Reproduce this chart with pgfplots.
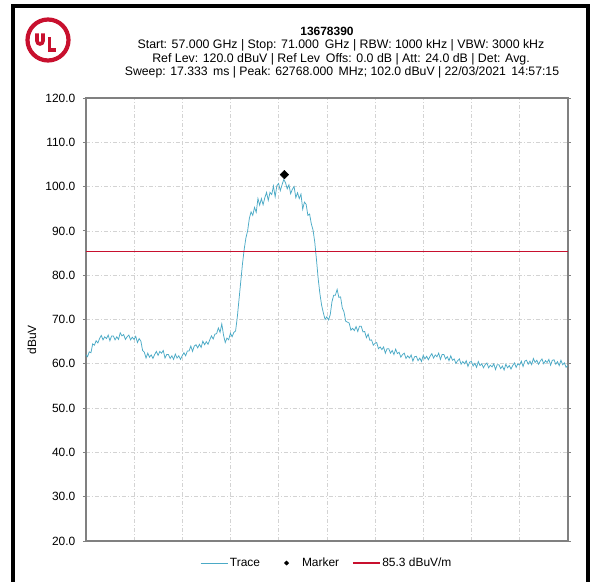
\documentclass[border=0pt]{standalone}
\usepackage{fontspec}
\setmainfont{Liberation Sans}
\usepackage{pgfplots}
\pgfplotsset{compat=1.18}
\definecolor{tracec}{RGB}{75,170,198}
\definecolor{ulred}{RGB}{200,16,46}
\definecolor{framec}{RGB}{128,128,128}
\begin{document}
\begin{tikzpicture}
\useasboundingbox (0bp,0bp) rectangle (590bp,582bp);
\draw[line width=4bp] (12.5bp,0bp) -- (12.5bp,576bp) -- (588bp,576bp) -- (588bp,0bp);
% logo
\draw[ulred, line width=4.2bp] (48bp,542bp) circle (20.5bp);
\draw[ulred, line width=3.6bp] (37bp,548.5bp) -- (37bp,541bp) arc[start angle=180, end angle=360, radius=3bp] -- (43bp,548.5bp);
\draw[ulred, line width=3.6bp, line join=miter] (49.3bp,544.5bp) -- (49.3bp,532bp) -- (56bp,532bp);
% titles
\node[font=\fontsize{12}{14}\selectfont\bfseries] at (327bp,551bp) {13678390};
\node[font=\fontsize{12.4}{14}\selectfont] at (341bp,537bp) {Start: 57.000 GHz | Stop: 71.000\hspace{2.5bp} GHz | RBW: 1000 kHz | VBW: 3000 kHz};
\node[font=\fontsize{12.4}{14}\selectfont] at (341bp,523bp) {Ref Lev: 120.0 dBuV | Ref Lev\hspace{2.5bp} Offs: 0.0 dB | Att: 24.0 dB | Det: Avg.};
\node[font=\fontsize{12.3}{14}\selectfont] at (342bp,510bp) {Sweep: 17.333\hspace{2bp} ms | Peak: 62768.000\hspace{2bp} MHz; 102.0 dBuV | 22/03/2021\hspace{2bp} 14:57:15};
\begin{axis}[
  at={(85.8bp,41bp)}, anchor=south west,
  width=482bp, height=443bp, scale only axis,
  xmin=57, xmax=71, ymin=20, ymax=120,
  xtick={57,58.4,59.8,61.2,62.6,64,65.4,66.8,68.2,69.6,71},
  xticklabels={},
  ytick={20,30,40,50,60,70,80,90,100,110,120},
  major x tick style={draw=none},
  major y tick style={draw=framec, line width=0.8bp},
  tick align=outside, major tick length=3bp,
  yticklabel style={font=\fontsize{12}{14}\selectfont, xshift=-4bp},
  yticklabel={\pgfmathprintnumber[fixed,fixed zerofill,precision=1]{\tick}},
  /pgf/number format/assume math mode=true,
  grid=major,
  major grid style={dash pattern=on 4bp off 2bp on 1bp off 2bp, draw=framec!35, line width=0.6bp},
  axis line style={draw=framec, line width=1.4bp},
  ylabel={dBuV},
  ylabel style={at={(axis description cs:-0.112,0.454)}, anchor=center, font=\fontsize{12}{14}\selectfont},
  legend columns=3,
  legend style={at={(0.5,-0.0497)}, anchor=center, draw=none, fill=none,
    font=\fontsize{12}{14}\selectfont,
    /tikz/every even column/.append style={column sep=11bp},
    nodes={inner xsep=2bp}},
  legend image code/.code={\draw[#1] (0bp,0bp) -- (27bp,0bp);},
]
\addplot[color=tracec, line width=0.75bp] coordinates {
(57.00,62.1)(57.05,61.6)(57.10,62.7)(57.15,62.5)(57.20,64.5)(57.25,64.2)(57.30,65.2)(57.35,64.7)(57.40,65.7)(57.45,66.4)
(57.50,65.4)(57.55,66.1)(57.60,65.7)(57.65,66.5)(57.70,65.2)(57.75,66.3)(57.80,66.3)(57.85,65.4)(57.90,66.1)(57.95,65.5)
(58.00,67.0)(58.05,66.3)(58.10,66.6)(58.15,65.5)(58.20,66.1)(58.25,66.5)(58.30,65.4)(58.35,66.0)(58.40,65.5)(58.45,66.2)
(58.50,64.8)(58.55,65.7)(58.60,65.1)(58.65,63.0)(58.70,62.6)(58.75,61.3)(58.80,62.4)(58.85,61.5)(58.90,62.0)(58.95,61.2)
(59.00,62.1)(59.05,62.8)(59.10,61.9)(59.15,62.8)(59.20,62.4)(59.25,63.0)(59.30,61.3)(59.35,62.1)(59.40,62.1)(59.45,61.2)
(59.50,61.8)(59.55,61.0)(59.60,62.2)(59.65,61.3)(59.70,61.8)(59.75,61.0)(59.80,61.8)(59.85,62.5)(59.90,61.8)(59.95,62.9)
(60.00,62.9)(60.05,64.0)(60.10,62.8)(60.15,64.0)(60.20,64.3)(60.25,63.6)(60.30,64.4)(60.35,63.7)(60.40,65.1)(60.45,64.3)
(60.50,65.0)(60.55,64.4)(60.60,65.4)(60.65,66.3)(60.70,65.6)(60.75,66.7)(60.80,66.8)(60.85,68.1)(60.90,67.1)(60.95,69.0)
(61.00,66.5)(61.05,64.8)(61.10,65.8)(61.15,65.4)(61.20,66.9)(61.25,66.1)(61.30,67.1)(61.35,67.4)(61.40,70.5)(61.45,74.5)
(61.50,78.5)(61.55,82.5)(61.60,85.8)(61.65,88.4)(61.70,90.0)(61.75,92.8)(61.80,94.3)(61.85,93.5)(61.90,95.3)(61.95,94.2)
(62.00,97.3)(62.05,95.8)(62.10,97.3)(62.15,95.9)(62.20,97.5)(62.25,98.7)(62.30,96.9)(62.35,98.7)(62.40,98.2)(62.45,100.1)
(62.50,97.7)(62.55,100.2)(62.60,100.7)(62.65,99.1)(62.70,100.4)(62.75,101.6)(62.80,100.9)(62.85,99.5)(62.90,100.4)(62.95,98.4)
(63.00,99.4)(63.05,100.0)(63.10,97.5)(63.15,98.6)(63.20,97.3)(63.25,98.3)(63.30,94.9)(63.35,96.5)(63.40,96.0)(63.45,93.5)
(63.50,93.8)(63.55,91.6)(63.60,90.2)(63.65,87.5)(63.70,83.5)(63.75,79.2)(63.80,75.8)(63.85,73.2)(63.90,71.5)(63.95,70.0)
(64.00,70.6)(64.05,69.9)(64.10,71.1)(64.15,74.0)(64.20,75.5)(64.25,75.5)(64.30,76.8)(64.35,75.0)(64.40,75.1)(64.45,72.6)
(64.50,71.7)(64.55,69.6)(64.60,69.4)(64.65,69.2)(64.70,67.6)(64.75,68.0)(64.80,67.5)(64.85,68.4)(64.90,67.3)(64.95,68.5)
(65.00,68.5)(65.05,67.2)(65.10,67.3)(65.15,65.9)(65.20,66.7)(65.25,65.3)(65.30,65.4)(65.35,64.2)(65.40,64.6)(65.45,64.8)
(65.50,63.4)(65.55,63.8)(65.60,63.2)(65.65,63.8)(65.70,62.4)(65.75,63.4)(65.80,63.4)(65.85,62.4)(65.90,63.0)(65.95,62.1)
(66.00,63.3)(66.05,62.3)(66.10,62.6)(66.15,61.5)(66.20,62.1)(66.25,62.4)(66.30,61.2)(66.35,61.8)(66.40,61.3)(66.45,62.0)
(66.50,60.6)(66.55,61.6)(66.60,61.7)(66.65,60.7)(66.70,61.3)(66.75,60.5)(66.80,61.9)(66.85,61.1)(66.90,61.7)(66.95,60.9)
(67.00,61.7)(67.05,62.3)(67.10,61.3)(67.15,62.0)(67.20,61.6)(67.25,62.4)(67.30,61.0)(67.35,62.1)(67.40,62.1)(67.45,61.1)
(67.50,61.6)(67.55,60.7)(67.60,61.8)(67.65,60.8)(67.70,61.1)(67.75,60.1)(67.80,60.7)(67.85,61.1)(67.90,59.9)(67.95,60.5)
(68.00,60.0)(68.05,60.7)(68.10,59.4)(68.15,60.4)(68.20,60.5)(68.25,59.5)(68.30,60.1)(68.35,59.2)(68.40,60.5)(68.45,59.6)
(68.50,60.0)(68.55,59.1)(68.60,59.8)(68.65,60.2)(68.70,59.1)(68.75,59.7)(68.80,59.3)(68.85,60.0)(68.90,58.7)(68.95,59.8)
(69.00,59.8)(69.05,58.9)(69.10,59.5)(69.15,58.6)(69.20,59.9)(69.25,59.1)(69.30,59.6)(69.35,58.8)(69.40,59.6)(69.45,60.2)
(69.50,59.2)(69.55,60.0)(69.60,59.7)(69.65,60.6)(69.70,59.4)(69.75,60.6)(69.80,60.8)(69.85,59.9)(69.90,60.6)(69.95,59.8)
(70.00,61.2)(70.05,60.3)(70.10,60.8)(70.15,59.9)(70.20,60.6)(70.25,61.1)(70.30,60.0)(70.35,60.7)(70.40,60.3)(70.45,61.0)
(70.50,59.7)(70.55,60.8)(70.60,60.9)(70.65,59.9)(70.70,60.5)(70.75,59.6)(70.80,60.8)(70.85,59.8)(70.90,60.2)(70.95,59.2)
(71.00,59.6)
};
\addlegendentry{Trace}
\addplot[only marks, mark=square*, mark options={rotate=45}, mark size=3bp,
  legend image code/.code={\fill (13.5bp,2.2bp) -- (15.7bp,0bp) -- (13.5bp,-2.2bp) -- (11.3bp,0bp) -- cycle; \path[draw=none] (0bp,0bp) (27bp,0bp);}]
  coordinates {(62.768,102.7)};
\addlegendentry{Marker}
\addplot[color=ulred, line width=1.1bp] coordinates {(57,85.3)(71,85.3)};
\addlegendentry{85.3 dBuV/m}
\end{axis}
\end{tikzpicture}
\end{document}
